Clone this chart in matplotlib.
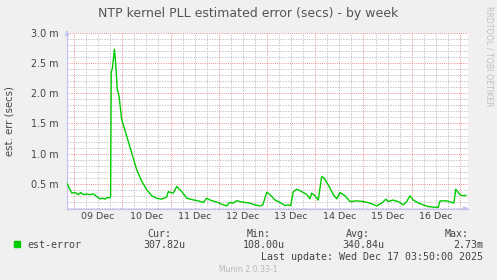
"""Munin style chart: NTP kernel PLL estimated error, weekly view."""

import matplotlib
matplotlib.use("Agg")
import matplotlib.pyplot as plt
from matplotlib.patches import Rectangle

# hours since 2025-12-09 00:00 and estimated error in milliseconds
hours = [
    -3.6, -1.1, 0.5, 2.1, 3.3, 4.6, 6.3, 8.0, 9.6, 11.3, 12.9, 14.3, 15.4,
    16.3, 17.6, 18.2, 18.5, 19.1, 20.1, 20.7, 21.5, 22.4, 23.7, 26.2, 28.7,
    31.2, 33.7, 36.2, 38.7, 41.1, 43.6, 46.1, 46.9, 48.1, 49.4, 51.1, 53.6,
    56.1, 59.3, 61.8, 64.3, 66.0, 67.7, 71.0, 74.3, 76.0, 77.3, 79.2, 80.9,
    82.6, 85.1, 87.5, 90.0, 92.5, 93.9, 95.9, 97.5, 100.0, 102.5, 105.0,
    106.6, 107.8, 109.1, 110.8, 113.3, 115.8, 117.4, 118.2, 119.9, 121.5,
    123.2, 124.4, 126.5, 129.0, 130.7, 132.3, 134.8, 137.3, 140.6, 143.9,
    147.2, 150.6, 153.1, 155.2, 156.3, 158.5, 161.3, 163.8, 165.5, 167.1,
    168.8, 171.3, 173.8, 176.2, 179.6, 181.2, 182.1, 185.4, 187.9, 189.0,
    189.9, 192.0, 193.6, 195.0,
]
est_error = [
    0.51, 0.345, 0.355, 0.32, 0.355, 0.32, 0.33, 0.32, 0.33, 0.29, 0.25, 0.26,
    0.245, 0.27, 0.27, 0.28, 2.35, 2.42, 2.73, 2.5, 2.07, 1.95, 1.57, 1.29,
    1.01, 0.73, 0.54, 0.40, 0.30, 0.26, 0.245, 0.28, 0.37, 0.355, 0.345,
    0.455, 0.37, 0.26, 0.233, 0.217, 0.19, 0.26, 0.23, 0.195, 0.15, 0.133,
    0.19, 0.18, 0.22, 0.205, 0.19, 0.18, 0.15, 0.133, 0.15, 0.36, 0.32, 0.23,
    0.19, 0.14, 0.15, 0.14, 0.37, 0.41, 0.37, 0.32, 0.25, 0.345, 0.30, 0.23,
    0.62, 0.595, 0.48, 0.32, 0.25, 0.355, 0.30, 0.205, 0.217, 0.205, 0.18,
    0.133, 0.18, 0.245, 0.205, 0.23, 0.205, 0.15, 0.205, 0.30, 0.23, 0.18,
    0.15, 0.122, 0.11, 0.11, 0.217, 0.217, 0.19, 0.18, 0.41, 0.32, 0.30,
    0.308,
]

day_labels = ["09 Dec", "10 Dec", "11 Dec", "12 Dec",
              "13 Dec", "14 Dec", "15 Dec", "16 Dec"]
y_major = [0.5, 1.0, 1.5, 2.0, 2.5, 3.0]

legend_name = "est-error"
stats_heads = ["Cur:", "Min:", "Avg:", "Max:"]
stats_vals = ["307.82u", "108.00u", "340.84u", "2.73m"]
last_update = "Last update: Wed Dec 17 03:50:00 2025"

W, H = 497, 280
TXT = "#444444"
GREEN = "#00cc00"
AXIS = "#c4c4f4"

fig = plt.figure(figsize=(W / 100, H / 100), dpi=100)
fig.patch.set_facecolor("#f0f0f0")


def px(x, y):
    return x / W, 1 - y / H


L, R, T, B = 67, 468, 33, 208.5
ax = fig.add_axes([L / W, 1 - B / H, (R - L) / W, (B - T) / H])
ax.set_facecolor("white")

ax.plot(hours, est_error, color=GREEN, lw=1.0, zorder=3)

ax.set_xlim(-3.5, 196.0)
ax.set_ylim(0.09, 3.0)

# grid: red dotted majors, gray dotted minors
ax.set_xticks(range(0, 193, 24))
ax.set_xticks(range(0, 196, 6), minor=True)
ax.set_yticks(y_major)
ax.set_yticks([i / 10 for i in range(1, 31)], minor=True)
ax.grid(which="minor", color="#c8c8c8", lw=0.7, ls=(0, (1.5, 1.2)), zorder=1)
ax.grid(which="major", color="#f09090", lw=0.7, ls=(0, (1, 1.2)), zorder=2)
ax.tick_params(axis="x", which="both", length=0, labelbottom=False)
ax.tick_params(axis="y", which="both", length=0, pad=6,
               labelsize=6.9, labelcolor=TXT)
ax.set_yticklabels([f"{v:.1f} m" for v in y_major])

for i, lab in enumerate(day_labels):
    ax.text(12 + 24 * i, -0.045, lab, transform=ax.get_xaxis_transform(),
            ha="center", va="center", fontsize=6.8, color=TXT)

for s in ["top", "right"]:
    ax.spines[s].set_visible(False)
for s in ["left", "bottom"]:
    ax.spines[s].set_color(AXIS)
    ax.spines[s].set_linewidth(0.9)
ax.annotate("", xy=(1.008, 0), xytext=(0.99, 0), xycoords="axes fraction",
            arrowprops=dict(arrowstyle="-|>", color=AXIS, lw=0.9,
                            mutation_scale=6), annotation_clip=False)
ax.annotate("", xy=(0, 1.03), xytext=(0, 0.99), xycoords="axes fraction",
            arrowprops=dict(arrowstyle="-|>", color=AXIS, lw=0.9,
                            mutation_scale=6), annotation_clip=False)

fig.text(*px(248, 13), "NTP kernel PLL estimated error (secs) - by week",
         ha="center", va="center", fontsize=9.0, color="#555555")
fig.text(*px(10, 121), "est. err (secs)", rotation=90,
         ha="center", va="center", fontsize=7.3, color=TXT)
fig.text(*px(489, 56), "RRDTOOL / TOBI OETIKER", rotation=270,
         ha="center", va="center", fontsize=5.7, color="#c0c0c0")

mono = "DejaVu Sans Mono"
fig.patches.append(Rectangle(px(14, 247), 6 / W, 6 / H, color=GREEN,
                             transform=fig.transFigure, figure=fig))
fig.text(*px(27, 245), legend_name, ha="left", va="center",
         family=mono, fontsize=7.2, color=TXT)
head_right = [171, 271, 370, 469]
val_right = [185, 285, 384, 483]
for hx, hd, vx, vl in zip(head_right, stats_heads, val_right, stats_vals):
    fig.text(*px(hx, 234), hd, ha="right", va="center",
             family=mono, fontsize=7.2, color=TXT)
    fig.text(*px(vx, 245), vl, ha="right", va="center",
             family=mono, fontsize=7.2, color=TXT)
fig.text(*px(483, 257), last_update, ha="right", va="center",
         family=mono, fontsize=7.2, color=TXT)
fig.text(*px(248, 270), "Munin 2.0.33-1", ha="center", va="center",
         fontsize=5.6, color="#b8b8b8")

fig.savefig("out.png", dpi=100, facecolor=fig.get_facecolor())
